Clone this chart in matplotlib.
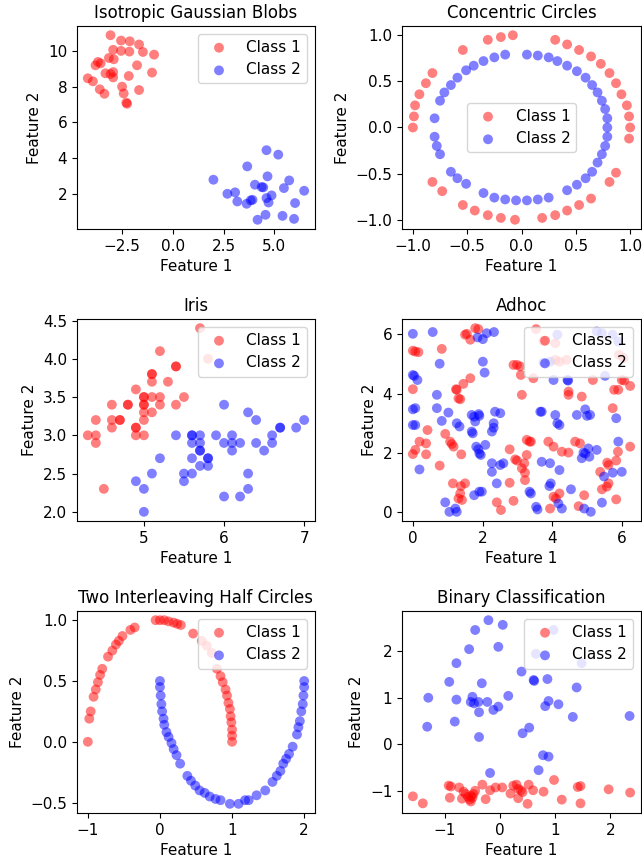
import matplotlib
matplotlib.use("Agg")
import matplotlib.pyplot as plt
import numpy as np

# ---------------- Data ----------------
# 1. Isotropic Gaussian Blobs
blobs_c1_x = [-3.08, -2.56, -2.13, -1.67, -2.95, -2.56, -2.15, -1.48, -0.93, -3.16, -2.92, -3.70, -3.57,
              -3.82, -1.77, -1.03, -3.33, -3.08, -2.95, -2.95, -2.18, -4.20, -3.95, -2.51, -3.61, -3.38,
              -2.43, -1.67, -2.30, -2.26]
blobs_c1_y = [10.90, 10.60, 10.56, 10.38, 10.08, 10.02, 9.98, 9.96, 9.81, 9.62, 9.55, 9.40, 9.32,
              9.21, 9.21, 8.80, 8.76, 8.72, 8.83, 8.53, 8.61, 8.48, 8.31, 8.01, 7.86, 7.61,
              7.63, 7.82, 7.11, 7.05]
blobs_c2_x = [2.00, 2.69, 3.07, 3.18, 3.67, 3.64, 3.84, 3.93, 4.05, 4.38, 4.46, 4.62, 4.67, 4.87,
              4.62, 4.72, 4.57, 4.18, 5.20, 5.48, 5.74, 5.41, 6.03, 5.98, 6.48]
blobs_c2_y = [2.78, 1.99, 2.07, 1.56, 3.53, 1.43, 1.62, 1.65, 2.50, 2.37, 2.35, 4.44, 2.97, 1.90,
              1.75, 1.50, 0.81, 0.53, 4.19, 2.31, 2.74, 0.75, 1.47, 0.58, 2.16]

# 2. Concentric Circles
circ_c1_x = [-0.08, -0.19, -0.31, -0.54, -0.82, -0.88, -0.94, -0.98, -0.99, -1.00, -0.82, -0.73,
             -0.54, -0.43, -0.31, -0.19, -0.06, 0.19, 0.31, 0.42, 0.53, 0.64, 0.81, 0.87, 0.99,
             1.00, 0.99, 0.97, 0.92, 0.87, 0.81, 0.73, 0.64, 0.53, 0.42, 0.31]
circ_c1_y = [1.00, 0.98, 0.95, 0.84, 0.59, 0.48, 0.36, 0.24, 0.12, 0.00, -0.59, -0.69,
             -0.84, -0.90, -0.95, -0.98, -1.00, -0.98, -0.95, -0.90, -0.84, -0.77, -0.59, -0.49, -0.12,
             0.00, 0.12, 0.24, 0.36, 0.48, 0.59, 0.69, 0.77, 0.84, 0.90, 0.95]
circ_c2_x = [0.05, 0.15, 0.25, 0.33, 0.42, 0.51, 0.59, 0.65, 0.70, 0.74, 0.77, 0.79, 0.79, 0.79,
             0.77, 0.74, 0.70, 0.65, 0.59, 0.51, 0.42, 0.25, 0.15, 0.05, -0.05, -0.15, -0.25, -0.35,
             -0.51, -0.59, -0.65, -0.75, -0.78, -0.80, -0.80, -0.75, -0.71, -0.65, -0.59, -0.51,
             -0.44, -0.35, -0.25, -0.15]
circ_c2_y = [0.79, 0.78, 0.76, 0.72, 0.67, 0.61, 0.54, 0.46, 0.38, 0.29, 0.20, 0.10, 0.00, -0.10,
             -0.20, -0.29, -0.38, -0.48, -0.55, -0.62, -0.68, -0.76, -0.78, -0.79, -0.79, -0.78,
             -0.76, -0.71, -0.61, -0.55, -0.48, -0.29, -0.20, -0.10, 0.10, 0.29, 0.38, 0.46, 0.54,
             0.62, 0.67, 0.72, 0.76, 0.79]

# 3. Iris
iris_c1_x = [5.7, 5.8, 5.2, 5.4, 5.4, 5.1, 5.1, 5.3, 5.1, 4.9, 5.0, 5.0, 5.1, 5.2, 5.5, 4.6, 4.8, 4.8,
             5.0, 5.0, 5.2, 5.4, 5.1, 5.0, 4.4, 4.6, 4.7, 4.7, 5.0, 4.6, 4.9, 4.9, 4.3, 4.4, 4.9, 5.0,
             4.4, 4.5]
iris_c1_y = [4.4, 4.0, 4.1, 3.9, 3.9, 3.8, 3.8, 3.7, 3.7, 3.6, 3.5, 3.5, 3.5, 3.5, 3.5, 3.4, 3.4, 3.4,
             3.4, 3.4, 3.4, 3.4, 3.3, 3.3, 3.2, 3.2, 3.2, 3.2, 3.2, 3.1, 3.1, 3.1, 3.0, 3.0, 3.0, 3.0,
             2.9, 2.3]
iris_c2_x = [6.0, 6.3, 6.4, 7.0, 6.7, 6.7, 6.9, 5.4, 5.6, 5.6, 5.7, 5.9, 6.1, 6.6, 5.6, 5.7, 6.0, 6.1,
             6.2, 6.4, 6.6, 5.7, 5.7, 6.1, 6.5, 5.2, 5.6, 5.8, 5.8, 5.7, 5.8, 5.1, 5.5, 5.6, 6.3, 4.9,
             5.5, 5.0, 6.3, 6.0, 6.2, 5.0]
iris_c2_y = [3.4, 3.3, 3.2, 3.2, 3.1, 3.1, 3.1, 3.0, 3.0, 3.0, 3.0, 3.0, 3.0, 3.0, 2.9, 2.9, 2.9, 2.9,
             2.9, 2.9, 2.9, 2.8, 2.8, 2.8, 2.8, 2.7, 2.7, 2.7, 2.7, 2.6, 2.6, 2.5, 2.5, 2.5, 2.5, 2.4,
             2.4, 2.3, 2.3, 2.2, 2.2, 2.0]

# 4. Adhoc
adhoc_c1_x = [1.79, 1.88, 1.50, 1.55, 1.65, 3.54, 3.75, 4.09, 0.00, 0.07, 0.16, 0.83, 4.09, 4.21,
              4.42, 5.92, 6.05, 2.89, 2.99, 3.08, 3.10, 3.46, 1.65, 1.45, 1.24, 1.26, 1.31, 1.36,
              0.00, 4.47, 4.47, 5.17, 5.78, 5.90, 6.00, 6.07, 6.24, 4.85, 5.74, 3.13, 0.42, 0.93,
              1.07, 1.12, 1.17, 0.19, 0.38, 0.07, 0.00, 0.38, 1.39, 0.77, 2.78, 2.94, 2.99, 3.27,
              3.35, 3.39, 3.27, 3.20, 3.22, 3.22, 3.13, 3.89, 4.04, 4.28, 4.47, 4.66, 4.80, 5.38,
              5.58, 5.62, 5.84, 5.89, 6.24, 5.43, 5.57, 5.62, 5.84, 1.15, 1.38, 1.50, 1.36, 1.41,
              1.31, 2.41, 2.53, 2.78, 2.89, 3.94, 4.04, 4.11, 4.21, 4.76, 4.92]
adhoc_c1_y = [6.21, 6.18, 5.99, 6.02, 5.82, 6.18, 5.78, 5.70, 5.45, 5.42, 5.40, 5.51, 5.14, 5.08,
              5.14, 5.31, 5.20, 4.97, 4.97, 4.92, 4.63, 4.52, 4.52, 4.33, 4.15, 4.13, 3.84, 3.81,
              4.15, 4.07, 3.96, 4.46, 4.13, 4.13, 4.46, 4.44, 4.26, 3.90, 3.51, 3.96, 2.77, 2.64,
              2.38, 2.30, 2.21, 2.38, 2.32, 2.10, 1.96, 1.95, 1.95, 1.57, 2.12, 1.78, 1.74, 2.44,
              2.38, 2.38, 1.93, 1.65, 1.33, 1.08, 1.48, 2.38, 2.21, 2.04, 2.01, 2.38, 2.32, 1.36,
              1.67, 1.59, 1.74, 2.04, 2.21, 0.77, 0.86, 0.97, 0.43, 0.97, 0.88, 0.97, 0.63, 0.41,
              0.46, 0.33, 0.07, 0.99, 0.38, 0.12, 0.52, 0.46, 0.63, 0.20, 0.57]
adhoc_c2_x = [0.00, 0.57, 1.86, 2.01, 2.12, 2.33, 4.15, 5.28, 5.43, 5.74, 5.90, 0.77, 2.01, 2.06,
              3.75, 3.94, 0.00, 0.04, 0.13, 4.04, 4.44, 4.46, 5.52, 0.69, 0.69, 0.00, 0.07, 1.02,
              0.83, 0.00, 0.07, 1.26, 1.34, 1.69, 1.76, 1.89, 1.91, 1.79, 1.69, 1.72, 2.36, 2.51,
              2.32, 2.32, 2.27, 3.66, 3.70, 4.09, 4.15, 4.21, 4.71, 5.00, 4.95, 5.09, 5.84, 5.90,
              0.19, 1.82, 1.88, 1.91, 1.95, 2.08, 2.27, 2.27, 2.60, 2.51, 3.70, 3.94, 4.21, 4.90,
              4.95, 4.85, 5.07, 5.04, 5.28, 5.49, 5.74, 6.00, 5.43, 0.93, 1.05, 1.22, 1.26, 1.76,
              1.91, 1.98, 2.41, 3.35, 3.39, 3.54, 3.58, 3.92, 3.96, 4.18, 4.28, 4.54, 4.92, 5.11]
adhoc_c2_y = [6.02, 6.08, 5.90, 5.84, 6.04, 6.08, 5.99, 6.10, 6.04, 5.99, 5.76, 5.01, 5.08, 4.71,
              5.05, 5.08, 4.63, 4.60, 4.46, 4.46, 4.46, 4.44, 4.60, 3.96, 3.51, 3.47, 3.51, 3.36,
              3.08, 2.94, 2.94, 3.00, 2.89, 3.28, 3.22, 3.31, 3.25, 3.06, 2.72, 2.66, 3.39, 3.34,
              3.00, 2.85, 2.72, 3.39, 3.39, 3.28, 3.00, 2.94, 3.28, 3.25, 3.47, 3.28, 3.17, 2.38,
              1.44, 2.21, 2.12, 1.98, 1.93, 2.27, 1.65, 1.36, 1.65, 1.59, 1.70, 1.65, 1.42, 2.01,
              1.98, 1.82, 1.87, 2.15, 2.10, 1.20, 1.33, 1.36, 0.32, 0.33, 0.01, 0.12, 0.01, 0.57,
              0.69, 0.69, 0.97, 0.69, 0.63, 0.18, 0.09, 0.88, 0.97, 0.29, 0.12, 0.77, 0.12, 0.01]

# 5. Two Interleaving Half Circles
moons_c1_x = [-1.00, -0.98, -0.96, -0.92, -0.89, -0.86, -0.83, -0.80, -0.72, -0.66, -0.61, -0.57,
              -0.52, -0.41, -0.35, -0.06, 0.00, 0.06, 0.12, 0.19, 0.24, 0.29, 0.46, 0.58, 0.65, 0.72,
              0.79, 0.84, 0.87, 0.91, 0.93, 0.95, 0.97, 0.98, 0.99, 1.00, 1.00, 1.00]
moons_c1_y = [0.00, 0.19, 0.25, 0.37, 0.43, 0.49, 0.55, 0.60, 0.70, 0.75, 0.80, 0.83,
              0.87, 0.92, 0.94, 1.00, 1.00, 1.00, 0.99, 0.98, 0.97, 0.96, 0.89, 0.83, 0.79, 0.73,
              0.60, 0.54, 0.49, 0.43, 0.38, 0.32, 0.27, 0.21, 0.16, 0.10, 0.05, 0.00]
moons_c2_x = [0.00, 0.00, 0.01, 0.02, 0.03, 0.05, 0.06, 0.09, 0.12, 0.16, 0.19, 0.23, 0.28, 0.38,
              0.43, 0.49, 0.55, 0.62, 0.69, 0.77, 0.84, 0.97, 1.09, 1.18, 1.23, 1.34, 1.46, 1.56,
              1.62, 1.67, 1.71, 1.75, 1.79, 1.84, 1.90, 1.92, 1.94, 1.96, 1.98, 1.99, 2.00, 2.00]
moons_c2_y = [0.50, 0.45, 0.38, 0.31, 0.25, 0.19, 0.14, 0.08, 0.04, -0.01, -0.06, -0.11, -0.18,
              -0.28, -0.32, -0.36, -0.40, -0.42, -0.45, -0.47, -0.48, -0.51, -0.51, -0.48, -0.48,
              -0.44, -0.40, -0.33, -0.28, -0.24, -0.18, -0.14, -0.10, -0.04, 0.06, 0.12, 0.17, 0.25,
              0.31, 0.38, 0.45, 0.50]

# 6. Binary Classification
bin_c1_x = [-1.58, -1.40, -0.93, -0.89, -0.91, -0.74, -0.66, -0.69, -0.62, -0.58, -0.55, -0.52, -0.50,
            -0.48, -0.45, -0.53, -0.32, -0.26, -0.18, -0.08, 0.04, 0.19, 0.24, 0.30, 0.33, 0.38, 0.41,
            0.33, 0.50, 0.52, 0.60, 0.79, 0.98, 1.12, 1.41, 1.46, 1.46, 1.97, 2.36]
bin_c1_y = [-1.11, -1.26, -0.88, -0.90, -1.14, -0.92, -1.01, -1.16, -1.06, -1.12, -1.18, -1.10, -1.14,
            -1.06, -0.99, -1.22, -0.86, -1.17, -0.98, -0.92, -0.92, -1.05, -0.88, -0.86, -0.95, -0.98,
            -1.02, -1.15, -1.27, -0.86, -0.98, -1.01, -0.76, -1.18, -0.91, -0.89, -1.26, -0.96, -1.03]
bin_c2_x = [-0.45, -0.21, 0.05, -0.56, -0.03, 0.97, 0.65, 1.48, -0.79, 0.39, 0.61, 0.62, 0.86, -0.92,
            -0.33, 1.39, -1.30, -0.79, -0.50, -0.53, -0.47, -0.39, -0.23, -0.03, -0.12, 0.15, 0.88,
            0.82, 1.06, 1.32, 2.35, -0.82, -1.32, -0.38, 0.53, 0.41, -0.38, 0.78, 0.88, 0.70, -0.18]
bin_c2_y = [2.45, 2.66, 2.56, 2.04, 2.09, 2.45, 1.94, 1.74, 1.74, 1.56, 1.38, 1.36, 1.40, 1.34,
            1.31, 1.22, 1.00, 0.96, 1.02, 0.91, 0.88, 0.91, 0.91, 0.81, 0.74, 1.04, 0.93,
            0.82, 0.86, 0.59, 0.61, 0.49, 0.38, 0.69, 0.36, 0.24, 0.16, -0.23, -0.26, -0.55, -0.61]

titles = ["Isotropic Gaussian Blobs", "Concentric Circles", "Iris", "Adhoc",
          "Two Interleaving Half Circles", "Binary Classification"]
class_labels = ["Class 1", "Class 2"]
legend_locs = ["upper right", "center", "upper right", "upper right", "upper right", "upper right"]

datasets = [
    (blobs_c1_x, blobs_c1_y, blobs_c2_x, blobs_c2_y),
    (circ_c1_x, circ_c1_y, circ_c2_x, circ_c2_y),
    (iris_c1_x, iris_c1_y, iris_c2_x, iris_c2_y),
    (adhoc_c1_x, adhoc_c1_y, adhoc_c2_x, adhoc_c2_y),
    (moons_c1_x, moons_c1_y, moons_c2_x, moons_c2_y),
    (bin_c1_x, bin_c1_y, bin_c2_x, bin_c2_y),
]

# ---------------- Layout ----------------
W, H = 642, 865
fig = plt.figure(figsize=(W / 100, H / 100), dpi=100)
col_px = [(77, 315), (402, 641)]
row_px = [(26, 229), (319, 521), (611, 813)]

for i, (title, data) in enumerate(zip(titles, datasets)):
    r, c = divmod(i, 2)
    x0, x1 = col_px[c]
    y0, y1 = row_px[r]
    ax = fig.add_axes([x0 / W, 1 - y1 / H, (x1 - x0) / W, (y1 - y0) / H])
    c1x, c1y, c2x, c2y = data
    ax.scatter(c1x, c1y, s=50, c="red", alpha=0.5, edgecolors="none", label=class_labels[0])
    ax.scatter(c2x, c2y, s=50, c="blue", alpha=0.5, edgecolors="none", label=class_labels[1])
    ax.set_title(title, fontsize=12)
    ax.set_xlabel("Feature 1", fontsize=11)
    ax.set_ylabel("Feature 2", fontsize=11)
    ax.tick_params(labelsize=11)
    ax.legend(loc=legend_locs[i], fontsize=11)

fig.savefig("out.png", dpi=100)
